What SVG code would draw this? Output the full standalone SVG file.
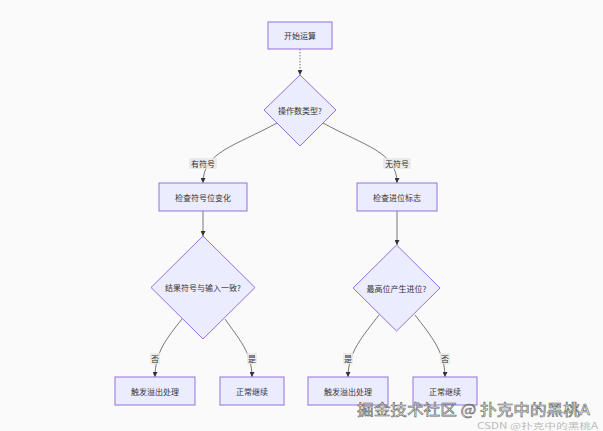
<svg xmlns="http://www.w3.org/2000/svg" width="603" height="431" viewBox="0 0 603 431">
<defs>
<style>
.node rect,.node polygon{fill:#ECECFF;stroke:#9370DB;stroke-width:1}
.node text{font-family:"Noto Sans CJK SC","Liberation Sans",sans-serif;font-size:8px;fill:#333;text-anchor:middle;dominant-baseline:central}
.edge{fill:none;stroke:#555;stroke-width:0.8}
.lbl rect{fill:#e8e8e8;fill-opacity:0.85}
.lbl text{font-family:"Noto Sans CJK SC","Liberation Sans",sans-serif;font-size:8px;fill:#333;text-anchor:middle;dominant-baseline:central}
</style>
<marker id="arr" viewBox="0 0 10 10" refX="10" refY="5" markerWidth="5" markerHeight="5" orient="auto" markerUnits="userSpaceOnUse">
<path d="M0,0 L10,5 L0,10 z" fill="#333"/>
</marker>
</defs>
<rect width="603" height="431" fill="#fafafa"/>
<g id="connectors">
<path class="edge" d="M300,49 L300,75" stroke-dasharray="1.5,1.5" marker-end="url(#arr)"/>
<path class="edge" d="M277,123 C235,146 203,152 203,183" marker-end="url(#arr)"/>
<path class="edge" d="M323,123 C365,146 397,152 397,183" marker-end="url(#arr)"/>
<path class="edge" d="M203,211 L203,236" marker-end="url(#arr)"/>
<path class="edge" d="M397,211 L397,245" marker-end="url(#arr)"/>
<path class="edge" d="M182,319 C167,338 155,352 155,377" marker-end="url(#arr)"/>
<path class="edge" d="M225,319 C238,338 252,352 252,377" marker-end="url(#arr)"/>
<path class="edge" d="M379,315 C363,336 348,352 348,377" marker-end="url(#arr)"/>
<path class="edge" d="M415,315 C431,336 445,352 445,377" marker-end="url(#arr)"/>
<g class="lbl"><rect x="189" y="158" width="28" height="11"/><text x="203" y="163.5">有符号</text></g>
<g class="lbl"><rect x="383" y="158" width="28" height="11"/><text x="397" y="163.5">无符号</text></g>
<g class="lbl"><rect x="150" y="353" width="10" height="11"/><text x="155" y="358.5">否</text></g>
<g class="lbl"><rect x="247" y="353" width="10" height="11"/><text x="252" y="358.5">是</text></g>
<g class="lbl"><rect x="343" y="353" width="10" height="11"/><text x="348" y="358.5">是</text></g>
<g class="lbl"><rect x="440" y="353" width="10" height="11"/><text x="445" y="358.5">否</text></g>
</g>
<g id="start" class="node"><rect x="268" y="22" width="64" height="27"/><text x="300" y="35.5">开始运算</text></g>
<g id="type" class="node"><polygon points="300,75 336,110 300,146 264,110"/><text x="300" y="110">操作数类型?</text></g>
<g id="checkSign" class="node"><rect x="159" y="183" width="88" height="28"/><text x="203" y="197">检查符号位变化</text></g>
<g id="checkCarry" class="node"><rect x="357" y="183" width="80" height="28"/><text x="397" y="197">检查进位标志</text></g>
<g id="signSame" class="node"><polygon points="203,236 255,287.5 203,339 151,287.5"/><text x="203" y="287.5">结果符号与输入一致?</text></g>
<g id="carryOut" class="node"><polygon points="396.5,245 440,288 396.5,331 353,288"/><text x="396.5" y="288">最高位产生进位?</text></g>
<g id="overflowL" class="node"><rect x="115" y="377" width="80" height="28"/><text x="155" y="391">触发溢出处理</text></g>
<g id="normalL" class="node"><rect x="220" y="377" width="64" height="28"/><text x="252" y="391">正常继续</text></g>
<g id="overflowR" class="node"><rect x="308" y="377" width="80" height="28"/><text x="348" y="391">触发溢出处理</text></g>
<g id="normalR" class="node"><rect x="413" y="377" width="64" height="28"/><text x="445" y="391">正常继续</text></g>
<text x="357" y="414.5" font-family="Noto Sans CJK SC,Liberation Sans,sans-serif" font-size="15" fill="#ffffff" stroke="#666" stroke-width="0.6" textLength="233" lengthAdjust="spacingAndGlyphs">掘金技术社区 @ 扑克中的黑桃A</text>
<text x="477" y="429" font-family="Noto Sans CJK SC,Liberation Sans,sans-serif" font-size="8.5" fill="#bbbbbb" textLength="121" lengthAdjust="spacingAndGlyphs">CSDN @扑克中的黑桃A</text>
</svg>
